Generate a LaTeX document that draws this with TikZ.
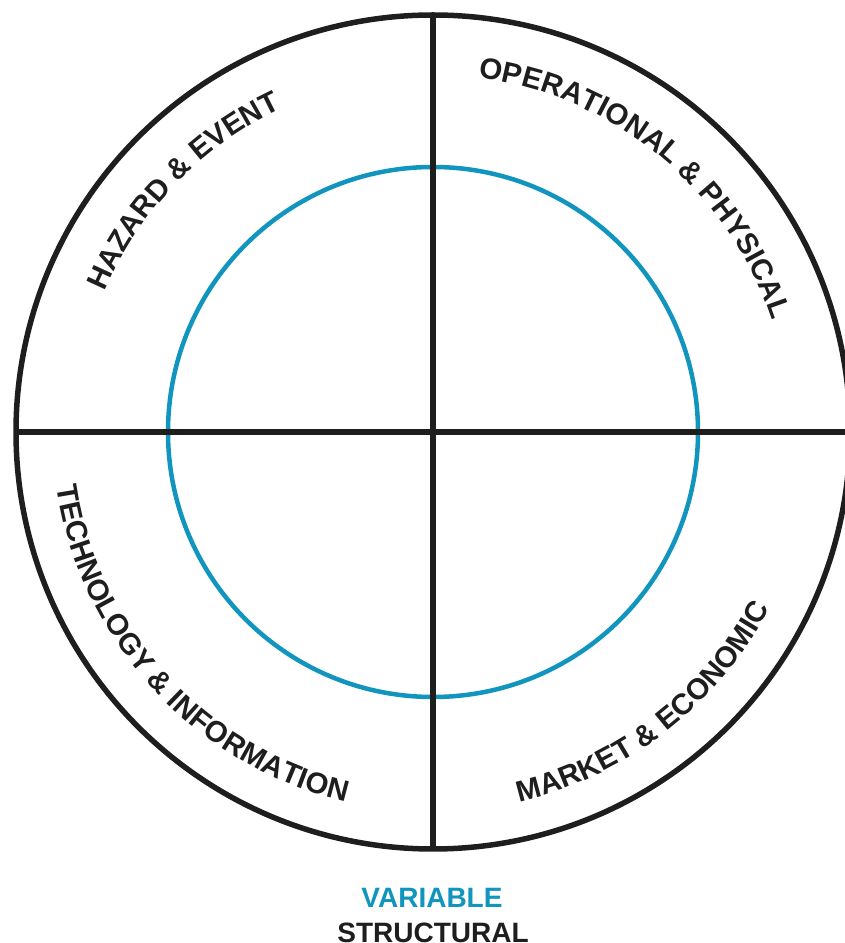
\documentclass[tikz,border=0pt]{standalone}
\usepackage{fontspec}
\setmainfont{Liberation Sans}
\usetikzlibrary{decorations.text}
\definecolor{ink}{HTML}{1E1E1E}
\definecolor{ringblue}{HTML}{1195BE}
\newcommand\arcfont{\bfseries\fontsize{29.5}{29.5}\selectfont}
\begin{document}
\begin{tikzpicture}[x=1pt,y=1pt,
  frame/.style={draw=ink, line width=5.5pt},
  ring/.style={draw=ringblue, line width=4.5pt},
  arclabel/.style={decorate, decoration={text along path, text align=center, text color=ink, text={|\arcfont|#1}}},
  caption/.style={font=\bfseries\fontsize{28}{28}\selectfont, anchor=base, inner sep=0pt}]
\useasboundingbox (0,0) rectangle (844,943);
\coordinate (O) at (433,511);
\coordinate (W) at (16,511);
\coordinate (E) at (850,511);
\coordinate (N) at (433,928);
\coordinate (S) at (433,94);
% inner ring and outer boundary
\draw[ring] (O) circle[radius=265];
\draw[frame] (O) circle[radius=417];
% quadrant dividers
\draw[frame] (W) -- (E);
\draw[frame] (N) -- (S);
% quadrant labels set along the rim
\path[arclabel={HAZARD {\&} EVENT}] (O) ++(166:357) arc[start angle=166, end angle=106, radius=357];
\path[arclabel={OPERATIONAL {\&} PHYSICAL}] (O) ++(90.5:357) arc[start angle=90.5, end angle=10.5, radius=357];
\path[arclabel={TECHNOLOGY {\&} INFORMATION}] (O) ++(182.5:380) arc[start angle=182.5, end angle=262.5, radius=380];
\path[arclabel={MARKET {\&} ECONOMIC}] (O) ++(272.8:380) arc[start angle=272.8, end angle=342.8, radius=380];
% legend
\node[caption, text=ringblue] (var) at (432,35) {VARIABLE};
\node[caption, text=ink] (str) at (433,1) {STRUCTURAL};
\end{tikzpicture}
\end{document}
